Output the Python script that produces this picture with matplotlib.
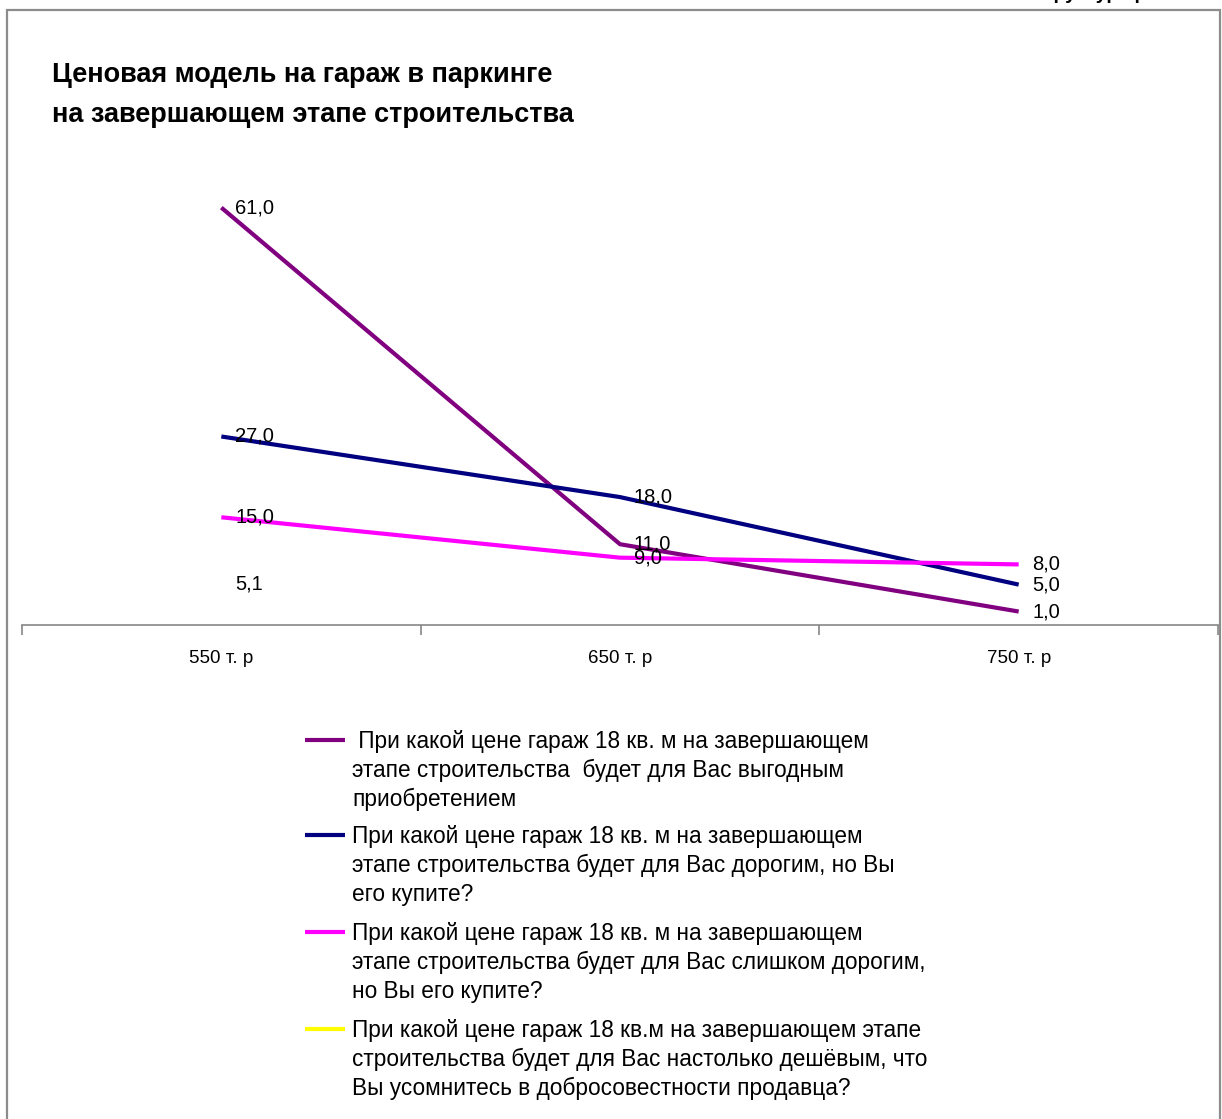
import matplotlib
matplotlib.use("Agg")
from matplotlib import pyplot as plt
from matplotlib.lines import Line2D
from matplotlib.patches import Rectangle
import numpy as np

plt.rcParams['font.family'] = ['Liberation Sans', 'DejaVu Sans']

prices = ['550 т. р', '650 т. р', '750 т. р']
profitable = [61.0, 11.0, 1.0]
expensive = [27.0, 18.0, 5.0]
too_expensive = [15.0, 9.0, 8.0]
too_cheap = [5.1, np.nan, np.nan]

series_names = [
    ' При какой цене гараж 18 кв. м на завершающем\nэтапе строительства  будет для Вас выгодным\nприобретением',
    'При какой цене гараж 18 кв. м на завершающем\nэтапе строительства будет для Вас дорогим, но Вы\nего купите?',
    'При какой цене гараж 18 кв. м на завершающем\nэтапе строительства будет для Вас слишком дорогим,\nно Вы его купите?',
    'При какой цене гараж 18 кв.м на завершающем этапе\nстроительства будет для Вас настолько дешёвым, что\nВы усомнитесь в добросовестности продавца?',
]
colors = ['#800080', '#000080', '#ff00ff', '#ffff00']
series = [profitable, expensive, too_expensive, too_cheap]

W, H = 1222, 1119
fig = plt.figure(figsize=(W / 100, H / 100), dpi=100)

# outer chart frame
fig.add_artist(Rectangle((7 / W, -0.01), 1213 / W, 1 - 10 / H + 0.01,
                         transform=fig.transFigure, fill=False,
                         edgecolor='#8c8c8c', lw=1.6, clip_on=False))
# heading of the page above the frame, mostly off the sheet
fig.text(1030 / W, 1 + 1 / H, 'Структура рынка', fontsize=14, fontweight='bold',
         va='baseline', ha='left')

ax = fig.add_axes([22 / W, 1 - 625 / H, 1196 / W, 478 / H])
x = np.arange(len(prices))
for vals, c in zip(series, colors):
    ax.plot(x, vals, color=c, lw=3, solid_capstyle='butt')
    for xi, v in zip(x, vals):
        if np.isnan(v):
            continue
        ax.annotate(f'{v:.1f}'.replace('.', ','), (xi, v), xytext=(10, 0),
                    textcoords='offset points', va='center', ha='left',
                    fontsize=14.5)

ax.set_xlim(-0.5, 2.5)
ax.set_ylim(-1, 70)
for s in ['top', 'right', 'left']:
    ax.spines[s].set_visible(False)
ax.spines['bottom'].set_color('#868686')
ax.spines['bottom'].set_linewidth(1.2)
ax.set_yticks([])
ax.set_xticks(x)
ax.set_xticklabels(prices, fontsize=13.5)
ax.tick_params(axis='x', which='major', length=0, pad=18)
ax.set_xticks([-0.5, 0.5, 1.5, 2.5], minor=True)
ax.tick_params(axis='x', which='minor', length=7, color='#868686', width=1.2)

fig.text(52 / W, 1 - 95 / H, 'Ценовая модель на гараж в паркинге\nна завершающем этапе строительства',
         fontsize=19.5, fontweight='bold', va='center', ha='left', linespacing=1.75)

# legend
entry_y = [740, 835, 932, 1029]
for name, c, yy in zip(series_names, colors, entry_y):
    fig.add_artist(Line2D([305 / W, 345 / W], [1 - yy / H] * 2, color=c, lw=3,
                          transform=fig.transFigure, solid_capstyle='butt'))
    fig.text(352 / W, 1 - (yy - 10) / H, name, fontsize=16.3, va='top', ha='left',
             linespacing=1.33)

fig.savefig('out.png', dpi=100)
